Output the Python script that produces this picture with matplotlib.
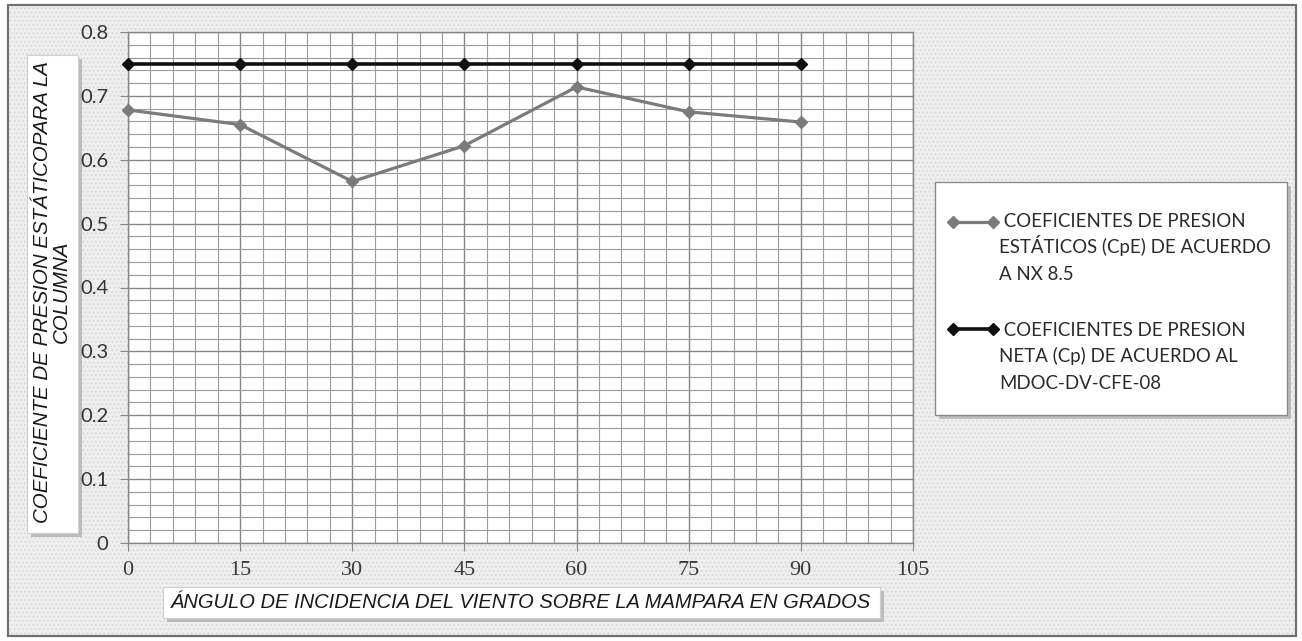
import matplotlib
matplotlib.use("Agg")
import numpy as np
import matplotlib.pyplot as plt
from matplotlib.patches import Rectangle
from matplotlib.ticker import MultipleLocator
from matplotlib.legend_handler import HandlerLine2D
from matplotlib.font_manager import FontProperties
from matplotlib import font_manager

# Wind incidence angles (degrees) and pressure coefficients
angles = [0, 15, 30, 45, 60, 75, 90]
cpe_nx85 = [0.678, 0.655, 0.566, 0.622, 0.714, 0.675, 0.659]
cp_mdoc = [0.75, 0.75, 0.75, 0.75, 0.75, 0.75, 0.75]

label_cpe = " COEFICIENTES DE PRESION\nESTÁTICOS (CpE) DE ACUERDO\nA NX 8.5"
label_cp = " COEFICIENTES DE PRESION\nNETA (Cp) DE ACUERDO AL\nMDOC-DV-CFE-08"
xlabel = "ÁNGULO DE INCIDENCIA DEL VIENTO SOBRE LA MAMPARA EN GRADOS"
ylabel = "COEFICIENTE DE PRESION ESTÁTICOPARA LA\nCOLUMNA"

x_ticks = [0, 15, 30, 45, 60, 75, 90, 105]
y_ticks = [0, 0.1, 0.2, 0.3, 0.4, 0.5, 0.6, 0.7, 0.8]

W, H = 1302, 641
fig = plt.figure(figsize=(W / 100, H / 100), dpi=100)
fig.patch.set_facecolor("white")


def fx(px):
    return px / W


def fy(py):
    return 1 - py / H


def box(x0, y0, x1, y1, shadow=True, **kw):
    """Draw a figure-space rectangle given in pixel corners."""
    if shadow:
        fig.patches.append(Rectangle((fx(x0 + 4), fy(y1 + 4)), fx(x1 - x0), (y1 - y0) / H,
                                     transform=fig.transFigure, facecolor="#a8a8a8",
                                     edgecolor="none", alpha=0.7, zorder=kw.get("zorder", 1) - 0.1))
    r = Rectangle((fx(x0), fy(y1)), fx(x1 - x0), (y1 - y0) / H,
                  transform=fig.transFigure, **kw)
    fig.patches.append(r)
    return r


class TopAlignedLine(HandlerLine2D):
    """Line handler that sits level with the first line of a multi-line label."""

    def __init__(self, lift, **kw):
        super().__init__(**kw)
        self.lift = lift

    def create_artists(self, legend, orig_handle, xdescent, ydescent, width, height,
                       fontsize, trans):
        arts = super().create_artists(legend, orig_handle, xdescent, ydescent, width,
                                      height, fontsize, trans)
        for a in arts:
            a.set_ydata(np.asarray(a.get_ydata()) + self.lift)
        return arts


# textured chart-area background with outer frame
box(8, 5, 1296, 636, shadow=False, facecolor="#efefef", edgecolor="none", zorder=0)
box(8, 5, 1296, 636, shadow=False, facecolor="none", edgecolor="#dcdcdc",
    hatch="....", linewidth=0, zorder=0.2)
box(8, 5, 1296, 636, shadow=False, facecolor="none", edgecolor="#707070",
    linewidth=1.6, zorder=0.3)

ax = fig.add_axes([fx(128), fy(543), fx(913 - 128), (543 - 32) / H])
ax.set_facecolor("white")
ax.set_zorder(2)

ax.set_xlim(0, 105)
ax.set_ylim(0, 0.8)
ax.set_xticks(x_ticks)
ax.set_yticks(y_ticks)
ax.set_yticklabels(["0" if v == 0 else f"{v:.1f}" for v in y_ticks])
ax.xaxis.set_minor_locator(MultipleLocator(3))
ax.yaxis.set_minor_locator(MultipleLocator(0.02))
ax.grid(which="major", color="#858585", linewidth=1.0)
ax.grid(which="minor", color="#9c9c9c", linewidth=0.8)
ax.set_axisbelow(True)
for s in ax.spines.values():
    s.set_color("#868686")
    s.set_linewidth(1.0)

ax.tick_params(axis="both", which="minor", length=0)
ax.tick_params(axis="x", which="major", direction="out", length=6, color="#868686",
               pad=7, labelsize=16, labelcolor="#3a3a3a")
ax.tick_params(axis="y", which="major", direction="out", length=6, color="#868686",
               pad=8, labelsize=14.5, labelcolor="#333333")
for t in ax.get_xticklabels():
    t.set_family("Liberation Serif")
for t in ax.get_yticklabels():
    t.set_family("Lato")

l1, = ax.plot(angles, cpe_nx85, color="#7b7b7b", linewidth=2.3, marker="D",
              markersize=6.5, label=label_cpe, zorder=3, clip_on=False)
l2, = ax.plot(angles, cp_mdoc, color="#101010", linewidth=2.6, marker="D",
              markersize=6.5, label=label_cp, zorder=4, clip_on=False)

# legend box
box(935, 182, 1287, 415, facecolor="white", edgecolor="#8a8a8a", linewidth=1.0, zorder=1)
leg_size = 13.4
leg_font = FontProperties(family="Lato", size=leg_size)
line_step = 26.5  # pixels between label lines
lift = line_step * 72 / 100
leg = fig.legend(handles=[l1, l2], labels=[label_cpe, label_cp], loc="upper left",
                 bbox_to_anchor=(fx(931), fy(196)), frameon=False, numpoints=2,
                 handlelength=2.75, handletextpad=0.0, labelspacing=2.05,
                 handler_map={l1: TopAlignedLine(lift), l2: TopAlignedLine(lift)},
                 prop=leg_font)
for t in leg.get_texts():
    t.set_linespacing(1.5)

# axis title boxes
box(27, 55, 78, 533, facecolor="white", edgecolor="#d0d0d0", linewidth=0.8, zorder=1)
box(163, 587, 880, 618, facecolor="white", edgecolor="#d0d0d0", linewidth=0.8, zorder=1)

narrow = "Liberation Sans Narrow"
avail = {f.name for f in font_manager.fontManager.ttflist}
title_family = narrow if narrow in avail else "Liberation Sans"

yl = fig.text(fx(52), fy(292), ylabel, rotation=90, ha="center", va="center",
              style="italic", family=title_family, size=14, color="#1a1a1a",
              linespacing=1.05, multialignment="center", zorder=3)
xl = fig.text(fx(521), fy(603), xlabel, ha="center", va="center", style="italic",
              family=title_family, size=14, color="#1a1a1a", zorder=3)

# scale both titles so they fill their boxes
fig.canvas.draw()
r = fig.canvas.get_renderer()
bb = xl.get_window_extent(r)
xl.set_fontsize(14 * 705 / bb.width)
bb = yl.get_window_extent(r)
yl.set_fontsize(14 * 465 / bb.height)

# re-set legend labels line by line with an even pitch (accented capitals
# would otherwise stretch the gap below the first line)
_, lp_h, lp_d = r.get_text_width_height_descent("lp", leg_font, ismath=False)
for t in leg.get_texts():
    tb = t.get_window_extent(r)
    lines = t.get_text().split("\n")
    _, h0, d0 = r.get_text_width_height_descent(lines[0], leg_font, ismath=False)
    base = tb.y1 - (max(h0, lp_h) - max(d0, lp_d))
    for i, line in enumerate(lines):
        fig.text(tb.x0 / W, (base - i * line_step) / H, line, va="baseline",
                 ha="left", fontproperties=leg_font, color="#2a2a2a", zorder=5)
    t.set_visible(False)

fig.savefig("out.png", dpi=100)
